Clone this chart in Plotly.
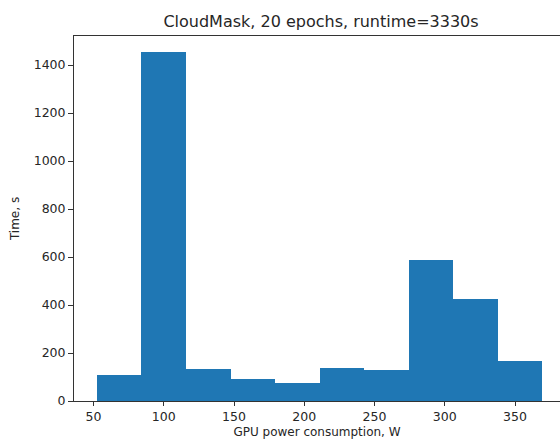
import plotly.graph_objects as go

# Histogram bin edges (W) and bin heights (time, s)
bin_edges = [52.4, 84.1, 115.8, 147.5, 179.2, 210.9, 242.6, 274.3, 306.0, 337.7, 369.4]
times = [107, 1455, 133, 91, 76, 137, 130, 588, 423, 165]
x_ticks = [50, 100, 150, 200, 250, 300, 350]
y_ticks = [0, 200, 400, 600, 800, 1000, 1200, 1400]

centers = [(bin_edges[i] + bin_edges[i + 1]) / 2 for i in range(len(times))]
widths = [bin_edges[i + 1] - bin_edges[i] for i in range(len(times))]

fig = go.Figure(go.Bar(
    x=centers, y=times, width=widths,
    marker=dict(color="#1f77b4", line=dict(width=0)),
))

font = "DejaVu Sans, sans-serif"
fig.update_layout(
    width=560, height=445,
    margin=dict(l=74, r=0, t=36, b=44),
    paper_bgcolor="white", plot_bgcolor="white",
    font=dict(family=font, size=12.5, color="#262626"),
    showlegend=False,
    bargap=0,
    title=dict(text="CloudMask, 20 epochs, runtime=3330s",
               x=321 / 560, xref="container", xanchor="center",
               y=1 - 21 / 445, yref="container", yanchor="middle",
               font=dict(size=16, color="#262626")),
    xaxis=dict(range=[36.1, 382], tickvals=x_ticks, showgrid=False, zeroline=False,
               showline=True, linecolor="#333", linewidth=1, mirror=True,
               ticks="outside", ticklen=4, tickcolor="#333", automargin=False,
               title=dict(text="GPU power consumption, W", standoff=4, font=dict(size=12))),
    yaxis=dict(range=[0, 1521], tickvals=y_ticks, showgrid=False, zeroline=False,
               showline=True, linecolor="#333", linewidth=1, mirror=False,
               ticks="outside", ticklen=5, tickcolor="#333", automargin=False,
               title=dict(text="Time, s", standoff=11, font=dict(size=12))),
)

fig.write_html("out.html",
               config={"displayModeBar": False},
               post_script="document.body.style.margin='0';document.body.style.padding='0';")
